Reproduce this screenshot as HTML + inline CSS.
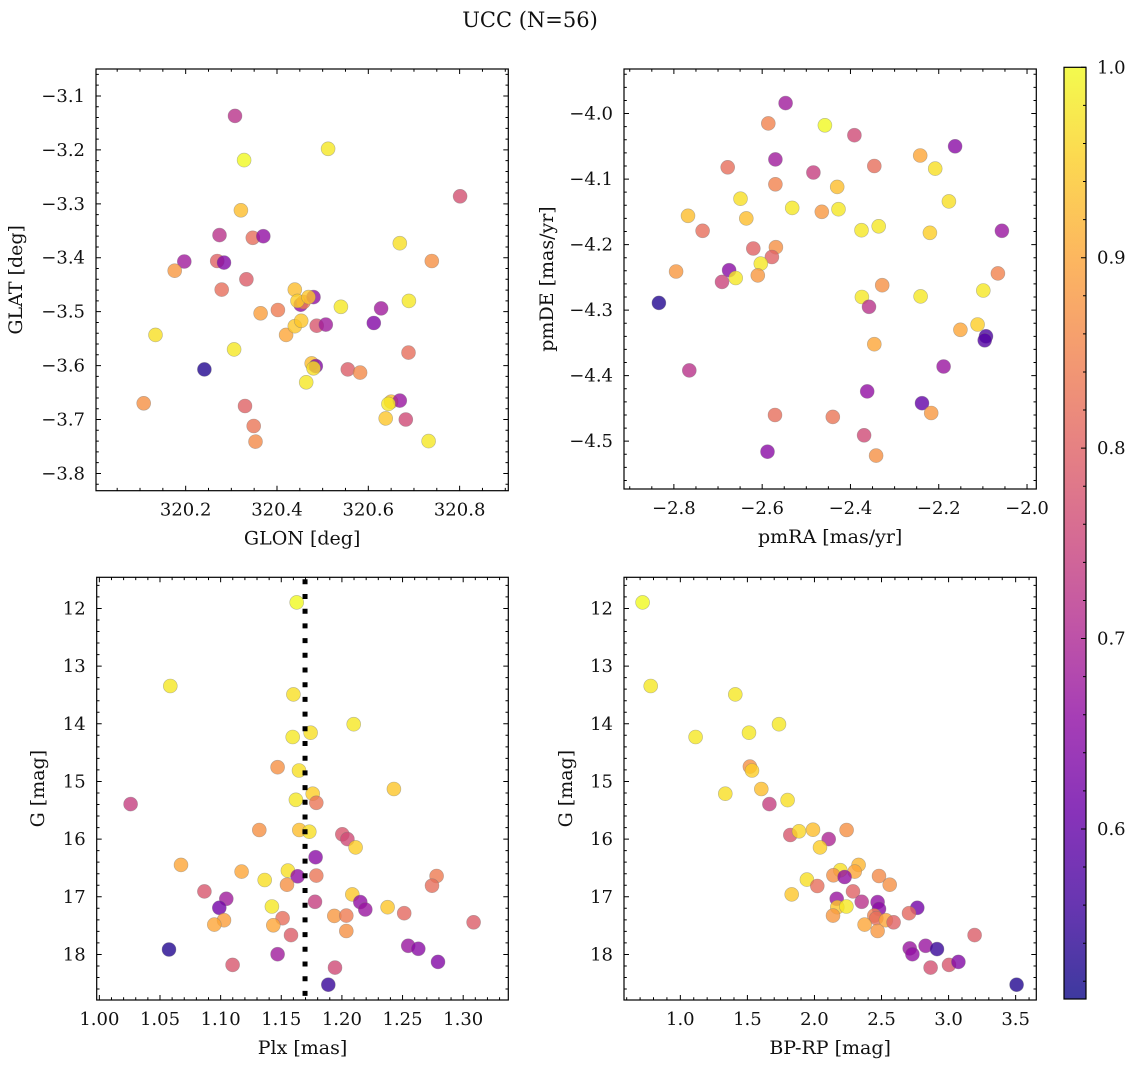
<!DOCTYPE html>
<html><head><meta charset="utf-8">
<style>
html,body{margin:0;padding:0;background:#fff;}
svg{display:block;font-family:"DejaVu Serif","Liberation Serif",serif;}
</style></head>
<body>
<svg id="fig" width="1136" height="1067" viewBox="0 0 1136 1067" xmlns="http://www.w3.org/2000/svg">
<text x="530" y="27" font-size="21" text-anchor="middle" fill="#111">UCC (N=56)</text>
</svg>
<script>
// ---- data: panel 1 (GLON vs GLAT)
const glon = [320.308,320.328,320.512,320.801,320.321,320.274,320.347,320.370,320.197,320.176,320.269,320.284,320.333,320.279,320.669,320.739,320.134,320.364,320.402,320.420,320.439,320.453,320.439,320.452,320.458,320.445,320.480,320.469,320.487,320.507,320.540,320.628,320.689,320.612,320.306,320.241,320.108,320.476,320.485,320.480,320.464,320.555,320.582,320.688,320.330,320.349,320.353,320.650,320.669,320.644,320.638,320.682,320.732];
const glat = [-3.137,-3.219,-3.198,-3.286,-3.312,-3.358,-3.363,-3.360,-3.407,-3.424,-3.406,-3.409,-3.440,-3.459,-3.373,-3.406,-3.543,-3.503,-3.497,-3.543,-3.527,-3.517,-3.459,-3.487,-3.482,-3.480,-3.473,-3.473,-3.526,-3.524,-3.491,-3.494,-3.480,-3.521,-3.570,-3.607,-3.670,-3.596,-3.601,-3.605,-3.631,-3.607,-3.613,-3.576,-3.675,-3.712,-3.741,-3.667,-3.665,-3.671,-3.698,-3.700,-3.740];
const prob1 = [0.72,1.0,0.98,0.77,0.93,0.72,0.82,0.66,0.68,0.88,0.80,0.64,0.79,0.82,0.97,0.87,0.97,0.89,0.84,0.90,0.94,0.94,0.93,0.66,0.84,0.95,0.66,0.94,0.78,0.68,0.98,0.68,0.98,0.64,0.98,0.53,0.87,0.93,0.64,0.97,0.98,0.79,0.86,0.82,0.80,0.83,0.86,0.93,0.67,0.98,0.94,0.76,0.98];
// ---- data: panel 2 (pmRA vs pmDE)
const pmra = [-2.547,-2.586,-2.458,-2.391,-2.163,-2.242,-2.570,-2.678,-2.484,-2.346,-2.208,-2.570,-2.430,-2.649,-2.177,-2.768,-2.532,-2.465,-2.427,-2.636,-2.735,-2.375,-2.336,-2.220,-2.057,-2.620,-2.569,-2.578,-2.603,-2.795,-2.675,-2.660,-2.691,-2.610,-2.066,-2.328,-2.099,-2.834,-2.374,-2.241,-2.358,-2.151,-2.112,-2.093,-2.096,-2.346,-2.765,-2.189,-2.362,-2.238,-2.217,-2.571,-2.440,-2.369,-2.588,-2.342];
const pmde = [-3.984,-4.015,-4.018,-4.033,-4.050,-4.064,-4.070,-4.082,-4.090,-4.080,-4.084,-4.108,-4.112,-4.130,-4.134,-4.156,-4.144,-4.150,-4.146,-4.160,-4.179,-4.178,-4.172,-4.182,-4.179,-4.206,-4.204,-4.219,-4.229,-4.241,-4.239,-4.251,-4.257,-4.247,-4.244,-4.262,-4.270,-4.289,-4.280,-4.279,-4.295,-4.330,-4.322,-4.340,-4.346,-4.352,-4.392,-4.386,-4.424,-4.442,-4.457,-4.460,-4.463,-4.491,-4.516,-4.522];
const prob2 = [0.68,0.85,1.0,0.76,0.65,0.90,0.68,0.82,0.74,0.82,0.97,0.85,0.93,0.97,0.97,0.93,0.98,0.88,0.98,0.93,0.82,0.98,0.98,0.95,0.67,0.80,0.87,0.80,0.98,0.88,0.65,0.98,0.75,0.88,0.85,0.87,0.98,0.53,0.98,0.98,0.72,0.90,0.95,0.57,0.58,0.90,0.72,0.67,0.66,0.60,0.88,0.82,0.83,0.76,0.65,0.87];
// ---- data: panel 3 (Plx vs G)
const plx = [1.1627,1.0585,1.160,1.2097,1.1742,1.1594,1.147,1.1646,1.2429,1.0258,1.1759,1.1789,1.1621,1.1319,1.1649,1.1731,1.2003,1.2045,1.2113,1.1783,1.0673,1.1173,1.1555,1.1635,1.1789,1.1363,1.1547,1.2781,1.2743,1.0866,1.2086,1.1047,1.1778,1.2152,1.2193,1.2377,1.0989,1.1423,1.2514,1.1028,1.0948,1.1511,1.1434,1.1937,1.2036,1.3086,1.2036,1.158,1.0574,1.2547,1.263,1.147,1.1099,1.1943,1.2792,1.1888];
const gmag3 = [11.895,13.345,13.49,14.008,14.154,14.229,14.753,14.811,15.131,15.393,15.213,15.37,15.318,15.842,15.842,15.871,15.917,15.999,16.144,16.313,16.447,16.563,16.546,16.645,16.633,16.709,16.790,16.639,16.808,16.907,16.959,17.035,17.087,17.093,17.221,17.180,17.192,17.169,17.285,17.407,17.483,17.372,17.495,17.332,17.326,17.442,17.594,17.664,17.914,17.85,17.902,17.995,18.181,18.228,18.129,18.525];
const prob3 = [1.0,0.98,0.97,0.98,0.97,0.98,0.87,0.97,0.94,0.74,0.95,0.83,0.98,0.87,0.93,0.97,0.78,0.76,0.95,0.65,0.90,0.90,0.97,0.66,0.83,0.97,0.87,0.84,0.82,0.78,0.94,0.68,0.74,0.66,0.67,0.94,0.62,0.98,0.81,0.89,0.90,0.82,0.90,0.88,0.84,0.79,0.87,0.79,0.53,0.67,0.65,0.68,0.78,0.76,0.64,0.55];
const plxMean = [1.1696];
// ---- data: panel 4 (BP-RP vs G)
const bprp = [0.719,0.779,1.410,1.736,1.114,1.512,1.519,1.534,1.335,1.604,1.664,1.800,1.820,1.885,1.989,2.240,2.106,2.041,2.329,2.300,2.193,2.141,2.225,2.481,2.561,1.944,2.021,1.830,2.287,2.166,2.352,2.471,2.481,2.170,2.238,2.767,2.705,2.138,2.446,2.461,2.533,2.590,2.374,2.471,3.194,2.710,2.730,2.829,2.914,2.866,3.003,3.073,3.507];
const gmag4 = [11.895,13.345,13.49,14.008,14.229,14.154,14.742,14.811,15.213,15.131,15.393,15.324,15.929,15.865,15.836,15.842,15.999,16.144,16.447,16.563,16.540,16.627,16.657,16.639,16.790,16.703,16.814,16.959,16.907,17.035,17.087,17.093,17.21,17.180,17.169,17.192,17.285,17.326,17.326,17.372,17.407,17.442,17.483,17.594,17.664,17.896,17.995,17.85,17.908,18.228,18.181,18.129,18.525];
const prob4 = [1.0,0.98,0.98,0.98,0.98,0.98,0.87,0.95,0.97,0.93,0.74,0.97,0.78,0.96,0.93,0.87,0.70,0.95,0.92,0.90,0.97,0.87,0.66,0.86,0.87,0.97,0.82,0.94,0.80,0.67,0.72,0.66,0.65,0.94,0.98,0.62,0.81,0.88,0.85,0.82,0.90,0.80,0.90,0.88,0.79,0.67,0.66,0.67,0.55,0.77,0.78,0.64,0.53];
// ---- tick labels
const p1xTicks = [320.2,320.4,320.6,320.8];
const p1yTicks = [-3.1,-3.2,-3.3,-3.4,-3.5,-3.6,-3.7,-3.8];
const p2xTicks = [-2.8,-2.6,-2.4,-2.2,-2.0];
const p2yTicks = [-4.0,-4.1,-4.2,-4.3,-4.4,-4.5];
const p3xTicks = [1.00,1.05,1.10,1.15,1.20,1.25,1.30];
const gTicks = [12,13,14,15,16,17,18];
const p4xTicks = [1.0,1.5,2.0,2.5,3.0,3.5];
const cbTicks = [0.6,0.7,0.8,0.9,1.0];

const NS = "http://www.w3.org/2000/svg";
const svg = document.getElementById('fig');
const VMIN = 0.5107, VMAX = 1.0;
const TICKFS = 18, LABELFS = 19;
const stops = ["#0d0887","#41049d","#6a00a8","#8f0da4","#b12a90","#cc4778","#e16462","#f2844b","#fca636","#fcce25","#f0f921"];
function hex(h){return [parseInt(h.substr(1,2),16),parseInt(h.substr(3,2),16),parseInt(h.substr(5,2),16)];}
function plasma(v){
  let t=(v-VMIN)/(VMAX-VMIN); t=Math.max(0,Math.min(1,t));
  const s=t*10, i=Math.min(9,Math.floor(s)), f=s-i;
  const a=hex(stops[i]), b=hex(stops[i+1]);
  return "rgb("+a.map((c,k)=>Math.round(c+(b[k]-c)*f)).join(",")+")";
}
function mk(tag, attrs, parent){
  const e=document.createElementNS(NS,tag);
  for(const k in attrs) e.setAttribute(k,attrs[k]);
  (parent||svg).appendChild(e); return e;
}
function fmt(v,d){return (v<0?"\u2212":"")+Math.abs(v).toFixed(d);}

function panel(cfg){
  const g=mk('g',{});
  
  
  const {L,R,T,B,x0,x1,y0,y1}=cfg;
  const sx=v=>L+(v-x0)/(x1-x0)*(R-L);
  const sy=v=>T+(v-y0)/(y1-y0)*(B-T);
  const pts=mk('g',{},g);
  
  
  for(let i=0;i<cfg.xs.length;i++){
    const c=mk('circle',{cx:sx(cfg.xs[i]).toFixed(1),cy:sy(cfg.ys[i]).toFixed(1),r:7,fill:plasma(cfg.cs[i]),'fill-opacity':0.8,stroke:'#777','stroke-opacity':0.5,'stroke-width':0.6},pts);
    
    
  }
  if(cfg.vline){
    const ln=mk('line',{x1:sx(cfg.vline[0]),x2:sx(cfg.vline[0]),y1:T+2,y2:B,stroke:'#000','stroke-width':5,'stroke-dasharray':'5 9.7'},g);
    
    
  }
  const fr=mk('rect',{x:L,y:T,width:R-L,height:B-T,fill:'none',stroke:'#000','stroke-width':1.2},g);
  
  
  let d='';
  const xs0=Math.ceil(x0/cfg.xmin-1e-6), xs1=Math.floor(x1/cfg.xmin+1e-6);
  for(let k=xs0;k<=xs1;k++){
    const v=k*cfg.xmin, px=sx(v);
    const maj=cfg.xt.some(t=>Math.abs(t-v)<cfg.xmin/3);
    const len=maj?5:2.8;
    d+=`M${px} ${B}v${-len}M${px} ${T}v${len}`;
  }
  const lo=Math.min(y0,y1), hi=Math.max(y0,y1);
  const ys0=Math.ceil(lo/cfg.ymin-1e-6), ys1=Math.floor(hi/cfg.ymin+1e-6);
  for(let k=ys0;k<=ys1;k++){
    const v=k*cfg.ymin, py=sy(v);
    const maj=cfg.yt.some(t=>Math.abs(t-v)<cfg.ymin/3);
    const len=maj?5:2.8;
    d+=`M${L} ${py}h${len}M${R} ${py}h${-len}`;
  }
  const tk=mk('path',{d:d,stroke:'#000','stroke-width':1,fill:'none'},g);
  
  
  cfg.xt.forEach(v=>{
    const t=mk('text',{x:sx(v),y:B+25,'font-size':TICKFS,'text-anchor':'middle',fill:'#111'},g);
    t.textContent=fmt(v,cfg.xd);
    
    
  });
  cfg.yt.forEach(v=>{
    const t=mk('text',{x:L-11,y:sy(v)+6,'font-size':TICKFS,'text-anchor':'end',fill:'#111'},g);
    t.textContent=fmt(v,cfg.yd);
    
    
  });
  const xl=mk('text',{x:(L+R)/2,y:B+54,'font-size':LABELFS,'text-anchor':'middle',fill:'#111'},g);
  xl.textContent=cfg.xlabel;
  
  
  const yx=cfg.ylx, yy=(T+B)/2;
  const yl=mk('text',{x:yx,y:yy,'font-size':LABELFS,'text-anchor':'middle',fill:'#111',transform:`rotate(-90 ${yx} ${yy})`},g);
  yl.textContent=cfg.ylabel;
  
  
}

panel({name:'glon-glat-panel',L:96,R:508.3,T:69,B:490.7,x0:320.0036,x1:320.9066,y0:-3.050,y1:-3.832,xs:glon,ys:glat,cs:prob1,xt:p1xTicks,yt:p1yTicks,xmin:0.05,ymin:0.02,xd:1,yd:1,xlabel:'GLON [deg]',ylabel:'GLAT [deg]',ylx:22});
panel({name:'pm-panel',L:624,R:1036.3,T:69,B:489,x0:-2.913,x1:-1.979,y0:-3.932,y1:-4.573,xs:pmra,ys:pmde,cs:prob2,xt:p2xTicks,yt:p2yTicks,xmin:0.05,ymin:0.02,xd:1,yd:1,xlabel:'pmRA [mas/yr]',ylabel:'pmDE [mas/yr]',ylx:553});
panel({name:'plx-g-panel',L:96.7,R:508.3,T:577.3,B:1000,x0:0.99781,x1:1.3372,y0:11.46,y1:18.79,xs:plx,ys:gmag3,cs:prob3,xt:p3xTicks,yt:gTicks,xmin:0.01,ymin:0.2,xd:2,yd:0,xlabel:'Plx [mas]',ylabel:'G [mag]',ylx:44,vline:plxMean});
panel({name:'cmd-panel',L:624,R:1036.3,T:577.3,B:1000,x0:0.580,x1:3.654,y0:11.46,y1:18.79,xs:bprp,ys:gmag4,cs:prob4,xt:p4xTicks,yt:gTicks,xmin:0.1,ymin:0.2,xd:1,yd:0,xlabel:'BP-RP [mag]',ylabel:'G [mag]',ylx:572});

// ---- colorbar
(function(){
  const L=1064,R=1086,T=67.3,B=999;
  const sy=v=>T+(VMAX-v)/(VMAX-VMIN)*(B-T);
  const defs=mk('defs',{});
  const lg=mk('linearGradient',{id:'cbg',x1:0,y1:1,x2:0,y2:0},defs);
  for(let i=0;i<=20;i++){
    const v=VMIN+(VMAX-VMIN)*i/20;
    mk('stop',{offset:(i/20),'stop-color':plasma(v)},lg);
  }
  const g=mk('g',{});
  
  
  mk('rect',{x:L,y:T,width:R-L,height:B-T,fill:'url(#cbg)','fill-opacity':0.8},g);
  mk('rect',{x:L,y:T,width:R-L,height:B-T,fill:'none',stroke:'#000','stroke-width':1.2},g);
  let d='';
  for(let k=Math.ceil(VMIN/0.02);k<=50;k++){
    const v=k*0.02, py=sy(v);
    const maj=Math.abs(v*10-Math.round(v*10))<1e-6;
    d+=`M${R} ${py}h${maj?-5:-3}`;
  }
  mk('path',{d:d,stroke:'#000','stroke-width':1},g);
  cbTicks.forEach(v=>{
    const t=mk('text',{x:R+11,y:sy(v)+6,'font-size':TICKFS,fill:'#111'},g);
    t.textContent=v.toFixed(1);
    
    
  });
})();
</script>
</body></html>
